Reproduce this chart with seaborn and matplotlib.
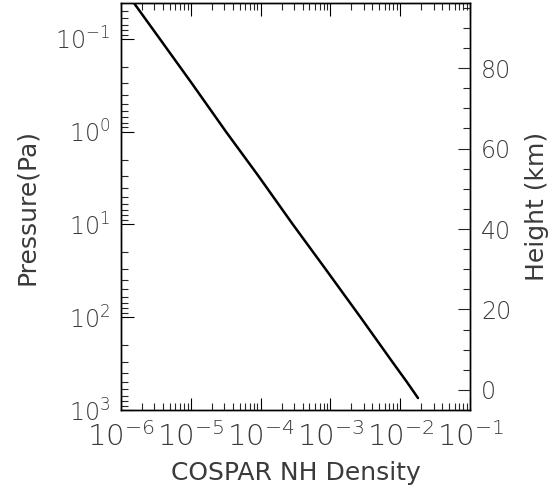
import numpy as np
import pandas as pd
import matplotlib
matplotlib.use("Agg")
import matplotlib.pyplot as plt
from matplotlib.ticker import LogLocator, MultipleLocator, NullFormatter
import seaborn as sns

# values
pressure_pa = [0.041, 0.1, 0.3, 1.0, 3.0, 10.0, 30.0, 100.0, 300.0, 500.0, 743.0]
nh_density = [1.53e-6, 3.6e-6, 1.03e-5, 3.19e-5, 9.3e-5, 2.9e-4, 8.45e-4, 2.7e-3, 7.65e-3, 1.25e-2, 1.8e-2]

x_range = (1e-6, 1e-1)
p_range = (1000, 0.041)
h_range = (-5, 96.2)
x_ticks = [1e-6, 1e-5, 1e-4, 1e-3, 1e-2, 1e-1]
h_ticks = [0, 20, 40, 60, 80]

df = pd.DataFrame({"density": nh_density, "pressure": pressure_pa})

sns.set_style("ticks")
plt.rcParams["font.family"] = ["DejaVu Sans"]
plt.rcParams["font.weight"] = "light"
plt.rcParams["mathtext.fontset"] = "custom"
plt.rcParams["mathtext.rm"] = "DejaVu Sans:light"
plt.rcParams["mathtext.it"] = "DejaVu Sans:light"
plt.rcParams["mathtext.default"] = "rm"
plt.rcParams["axes.linewidth"] = 1.0
plt.rcParams["axes.edgecolor"] = "black"

text_col = "#3a3a3a"

fig = plt.figure(figsize=(5.49, 4.97), dpi=100)
ax = fig.add_axes([0.2204, 0.175, 0.6357, 0.819])

sns.lineplot(data=df, x="density", y="pressure", color="black", linewidth=1.8,
             estimator=None, sort=False, ax=ax)

ax.set_xscale("log")
ax.set_yscale("log")
ax.set_xlim(*x_range)
ax.set_ylim(*p_range)

ax.set_xticks(x_ticks)
ax.set_xticklabels([f"$10^{{{int(np.log10(v))}}}$" for v in x_ticks])
ax.xaxis.set_minor_locator(LogLocator(base=10, subs=np.arange(2, 10), numticks=20))
ax.xaxis.set_minor_formatter(NullFormatter())
ax.yaxis.set_major_locator(LogLocator(base=10, numticks=10))
ax.yaxis.set_minor_locator(LogLocator(base=10, subs=np.arange(2, 10), numticks=20))
ax.yaxis.set_minor_formatter(NullFormatter())

ax.tick_params(which="major", direction="in", length=9, width=0.8,
               top=True, right=False, labelsize=17, colors="black")
ax.tick_params(which="minor", direction="in", length=5, width=0.8,
               top=True, right=False)
ax.tick_params(axis="x", pad=9, labelsize=21)
ax.tick_params(axis="y", pad=8)
for lab in ax.get_xticklabels() + ax.get_yticklabels():
    lab.set_color(text_col)

ax.set_xlabel("COSPAR NH Density", fontsize=18, color=text_col, labelpad=6)
ax.set_ylabel("Pressure(Pa)", fontsize=18, color=text_col, labelpad=12)

# height axis on the right
ax2 = ax.twinx()
ax2.set_ylim(*h_range)
ax2.set_yticks(h_ticks)
ax2.yaxis.set_minor_locator(MultipleLocator(5))
ax2.tick_params(which="major", direction="in", length=9, width=0.8,
                labelsize=17, labelcolor=text_col, pad=8)
ax2.tick_params(which="minor", direction="in", length=5, width=0.8)
ax2.set_ylabel("Height (km)", fontsize=18, color=text_col, labelpad=10)

for a in (ax, ax2):
    for s in a.spines.values():
        s.set_visible(True)
        s.set_color("black")

fig.savefig("out.png", dpi=100)
